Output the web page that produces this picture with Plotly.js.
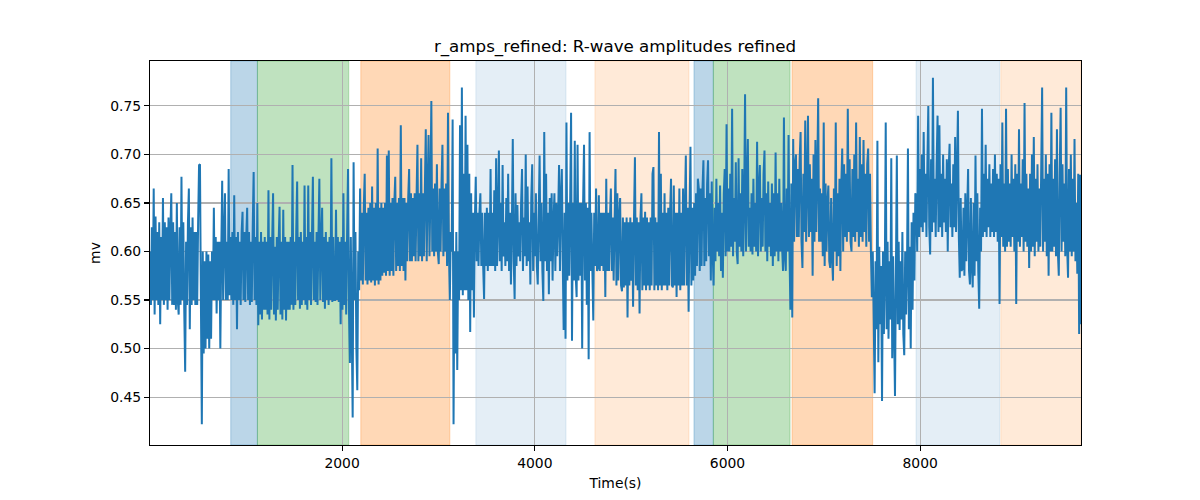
<!DOCTYPE html>
<html>
<head>
<meta charset="utf-8">
<script src="https://cdn.plot.ly/plotly-3.0.1.min.js"></script>
<style>html,body{margin:0;padding:0;background:#fff;}#chart{width:1200px;height:500px;}</style>
</head>
<body>
<div id="chart"></div>
<script>
// Sampling of the series (seconds)
const tStart = 6;
const tEnd = 9669;

// r_amps_refined values (mv)
const rAmps = [
0.60,0.545,0.625,0.55,0.665,0.535,0.636,0.55,0.62,0.545,0.63,0.525,0.615,0.55,0.655,0.545,0.63,0.55,0.625,0.54,0.635,0.55,0.62,0.66,0.545,
0.63,0.545,0.62,0.54,0.65,0.55,0.535,0.625,0.545,0.677,0.55,0.63,0.54,0.476,0.61,0.545,0.63,0.665,0.52,0.625,0.545,0.635,0.55,0.62,0.545,
0.62,0.545,0.63,0.689,0.69,0.55,0.422,0.6,0.495,0.59,0.50,0.6,0.51,0.597,0.50,0.59,0.51,0.6,0.55,0.645,0.55,0.615,0.536,0.61,0.55,
0.61,0.50,0.6,0.673,0.55,0.615,0.66,0.55,0.61,0.55,0.685,0.555,0.615,0.55,0.62,0.545,0.658,0.55,0.615,0.52,0.62,0.55,0.61,0.545,0.62,
0.641,0.55,0.62,0.548,0.615,0.645,0.55,0.62,0.545,0.61,0.548,0.625,0.682,0.55,0.615,0.545,0.65,0.524,0.61,0.535,0.62,0.53,0.61,0.54,0.615,
0.54,0.61,0.535,0.663,0.53,0.615,0.54,0.61,0.66,0.535,0.605,0.529,0.615,0.54,0.61,0.646,0.535,0.61,0.53,0.643,0.54,0.615,0.529,0.61,0.54,
0.61,0.54,0.615,0.545,0.689,0.54,0.61,0.545,0.62,0.672,0.55,0.615,0.541,0.62,0.545,0.61,0.55,0.668,0.545,0.615,0.54,0.668,0.55,0.62,0.545,
0.615,0.677,0.55,0.61,0.548,0.62,0.545,0.615,0.675,0.55,0.61,0.645,0.548,0.615,0.541,0.62,0.55,0.61,0.545,0.615,0.55,0.696,0.548,0.615,0.55,
0.55,0.643,0.55,0.615,0.548,0.61,0.525,0.615,0.54,0.66,0.545,0.61,0.535,0.62,0.685,0.54,0.485,0.615,0.52,0.429,0.692,0.55,0.62,0.5,0.457,
0.6,0.56,0.665,0.57,0.64,0.566,0.645,0.68,0.57,0.64,0.566,0.645,0.57,0.65,0.568,0.667,0.57,0.645,0.565,0.65,0.57,0.706,0.566,0.645,0.57,
0.65,0.575,0.645,0.578,0.65,0.575,0.699,0.58,0.704,0.575,0.65,0.58,0.655,0.575,0.65,0.677,0.58,0.65,0.585,0.655,0.58,0.73,0.585,0.655,0.58,
0.655,0.57,0.65,0.59,0.655,0.685,0.59,0.66,0.59,0.655,0.595,0.66,0.59,0.655,0.71,0.59,0.66,0.595,0.696,0.59,0.66,0.595,0.665,0.726,0.59,
0.665,0.72,0.595,0.66,0.755,0.6,0.665,0.595,0.67,0.6,0.69,0.6,0.587,0.665,0.6,0.67,0.71,0.595,0.665,0.6,0.67,0.585,0.743,0.6,0.55,
0.62,0.6,0.736,0.422,0.6,0.495,0.62,0.478,0.6,0.55,0.73,0.56,0.769,0.555,0.68,0.56,0.74,0.56,0.71,0.55,0.68,0.517,0.66,0.56,0.64,
0.532,0.63,0.677,0.59,0.64,0.585,0.64,0.66,0.585,0.64,0.585,0.551,0.64,0.585,0.645,0.58,0.64,0.585,0.685,0.585,0.64,0.585,0.663,0.58,0.696,
0.585,0.635,0.704,0.59,0.65,0.58,0.689,0.595,0.63,0.585,0.655,0.59,0.68,0.58,0.64,0.566,0.625,0.716,0.59,0.551,0.66,0.585,0.648,0.595,0.63,
0.59,0.65,0.685,0.58,0.635,0.595,0.70,0.585,0.667,0.59,0.63,0.566,0.655,0.69,0.58,0.64,0.595,0.66,0.585,0.566,0.635,0.699,0.59,0.65,0.58,
0.549,0.723,0.59,0.68,0.58,0.64,0.556,0.655,0.59,0.66,0.57,0.63,0.66,0.58,0.65,0.595,0.635,0.689,0.58,0.655,0.685,0.59,0.519,0.64,0.51,
0.733,0.57,0.65,0.575,0.65,0.743,0.508,0.65,0.57,0.714,0.575,0.553,0.71,0.57,0.65,0.575,0.65,0.50,0.65,0.71,0.57,0.65,0.545,0.645,0.489,
0.723,0.58,0.64,0.58,0.529,0.64,0.585,0.665,0.58,0.583,0.658,0.58,0.64,0.585,0.64,0.58,0.64,0.553,0.675,0.58,0.64,0.58,0.635,0.665,0.58,
0.635,0.57,0.63,0.685,0.565,0.66,0.57,0.635,0.655,0.565,0.559,0.635,0.563,0.63,0.565,0.635,0.532,0.63,0.565,0.635,0.57,0.63,0.543,0.635,0.697,
0.565,0.635,0.56,0.63,0.536,0.635,0.66,0.56,0.635,0.565,0.641,0.56,0.635,0.565,0.63,0.56,0.635,0.565,0.68,0.687,0.56,0.635,0.565,0.63,0.56,
0.723,0.565,0.68,0.56,0.64,0.565,0.66,0.565,0.64,0.56,0.645,0.565,0.64,0.675,0.565,0.563,0.668,0.565,0.64,0.553,0.64,0.565,0.665,0.56,0.64,
0.565,0.665,0.565,0.645,0.699,0.565,0.645,0.538,0.64,0.708,0.565,0.645,0.57,0.65,0.575,0.66,0.585,0.675,0.665,0.58,0.665,0.585,0.665,0.694,0.585,
0.655,0.59,0.67,0.694,0.595,0.66,0.57,0.672,0.6,0.565,0.645,0.59,0.675,0.6,0.65,0.595,0.668,0.58,0.64,0.573,0.66,0.685,0.595,0.731,0.6,
0.665,0.6,0.68,0.605,0.747,0.595,0.655,0.61,0.692,0.6,0.587,0.696,0.605,0.66,0.6,0.685,0.595,0.65,0.762,0.6,0.67,0.716,0.605,0.645,0.6,
0.66,0.597,0.675,0.605,0.65,0.6,0.713,0.595,0.665,0.689,0.6,0.655,0.605,0.68,0.704,0.6,0.66,0.59,0.672,0.605,0.65,0.595,0.67,0.585,0.66,
0.595,0.702,0.6,0.66,0.59,0.675,0.6,0.65,0.605,0.58,0.738,0.595,0.58,0.665,0.6,0.72,0.6,0.54,0.67,0.532,0.716,0.61,0.69,0.70,0.615,
0.685,0.615,0.695,0.723,0.61,0.583,0.68,0.62,0.735,0.61,0.67,0.74,0.615,0.69,0.62,0.675,0.575,0.70,0.61,0.715,0.62,0.68,0.758,0.61,0.665,
0.61,0.66,0.595,0.733,0.585,0.67,0.6,0.65,0.668,0.59,0.583,0.655,0.595,0.57,0.665,0.6,0.733,0.585,0.66,0.595,0.675,0.58,0.67,0.706,0.6,
0.69,0.615,0.68,0.61,0.747,0.62,0.695,0.61,0.60,0.685,0.615,0.70,0.61,0.733,0.62,0.675,0.605,0.718,0.615,0.69,0.61,0.715,0.62,0.68,0.605,
0.69,0.706,0.61,0.68,0.6,0.553,0.60,0.53,0.454,0.59,0.52,0.714,0.486,0.605,0.525,0.585,0.446,0.60,0.515,0.575,0.733,0.52,0.61,0.51,0.59,
0.53,0.696,0.49,0.595,0.52,0.451,0.58,0.699,0.525,0.61,0.519,0.59,0.53,0.62,0.515,0.493,0.60,0.535,0.585,0.706,0.52,0.605,0.50,0.63,0.54,
0.64,0.57,0.66,0.655,0.6,0.74,0.615,0.685,0.625,0.70,0.62,0.723,0.63,0.68,0.615,0.69,0.75,0.625,0.597,0.695,0.62,0.779,0.63,0.675,0.615,
0.69,0.74,0.62,0.73,0.625,0.68,0.615,0.70,0.63,0.675,0.62,0.695,0.60,0.685,0.711,0.625,0.67,0.615,0.69,0.625,0.718,0.62,0.68,0.745,0.615,
0.573,0.655,0.58,0.583,0.645,0.575,0.66,0.59,0.64,0.685,0.58,0.566,0.655,0.585,0.563,0.65,0.575,0.699,0.59,0.66,0.58,0.541,0.645,0.6,0.747,
0.615,0.68,0.62,0.71,0.615,0.675,0.625,0.69,0.615,0.67,0.62,0.685,0.615,0.70,0.62,0.68,0.61,0.675,0.546,0.69,0.615,0.733,0.605,0.67,0.60,
0.747,0.605,0.685,0.61,0.67,0.605,0.70,0.615,0.675,0.6,0.69,0.546,0.68,0.61,0.726,0.605,0.67,0.615,0.695,0.60,0.753,0.61,0.68,0.605,0.665,
0.583,0.68,0.6,0.70,0.605,0.718,0.595,0.675,0.61,0.69,0.6,0.665,0.605,0.685,0.769,0.6,0.675,0.61,0.70,0.595,0.68,0.575,0.69,0.6,0.743,
0.6,0.675,0.605,0.695,0.595,0.726,0.6,0.575,0.68,0.748,0.6,0.69,0.61,0.67,0.595,0.769,0.605,0.573,0.685,0.6,0.70,0.595,0.675,0.6,0.716,
0.59,0.65,0.577,0.68,0.515,0.679,0.525
];

// Shaded periods: start, end (s) and colour group
const spanStarts = [844, 1121, 2194, 3388, 4624, 5652, 5853, 6670, 7957, 8837];
const spanEnds   = [1121, 2069, 3118, 4324, 5600, 5853, 6649, 7507, 8825, 9669];
const spanKinds  = ['blue', 'green', 'orange', 'lightblue', 'lightorange', 'blue', 'green', 'orange', 'lightblue', 'lightorange'];

const yTicks = [0.45, 0.50, 0.55, 0.60, 0.65, 0.70, 0.75];
const xTicks = [2000, 4000, 6000, 8000];

const kindColors = {
  blue: 'rgba(31,119,180,0.30)',
  green: 'rgba(44,160,44,0.30)',
  orange: 'rgba(255,127,14,0.30)',
  lightblue: 'rgba(31,119,180,0.12)',
  lightorange: 'rgba(255,127,14,0.16)'
};

const dt = (tEnd - tStart) / (rAmps.length - 1);
const times = rAmps.map((_, i) => tStart + i * dt);

const shapes = spanStarts.map((s, i) => ({
  type: 'rect', xref: 'x', yref: 'paper',
  x0: s, x1: spanEnds[i], y0: 0, y1: 1,
  fillcolor: kindColors[spanKinds[i]],
  line: {color: kindColors[spanKinds[i]], width: 1},
  layer: 'below'
}));

const font = {family: 'DejaVu Sans, sans-serif', color: '#000', size: 13.9};

const trace = {
  x: times, y: rAmps, type: 'scatter', mode: 'lines',
  line: {color: '#1f77b4', width: 2, simplify: false},
  hoverinfo: 'skip'
};

const layout = {
  width: 1200, height: 500,
  margin: {l: 150, r: 119, t: 61, b: 55},
  paper_bgcolor: '#fff', plot_bgcolor: '#fff',
  font: font,
  showlegend: false,
  title: {
    text: 'r_amps_refined: R-wave amplitudes refined',
    font: {family: 'DejaVu Sans, sans-serif', size: 16.7, color: '#000'},
    x: 0.5125, xref: 'container', xanchor: 'center',
    y: 1 - 46 / 500, yref: 'container', yanchor: 'middle'
  },
  xaxis: {
    range: [tStart, tEnd],
    tickvals: xTicks, ticktext: xTicks.map(String),
    ticks: 'outside', ticklen: 5, tickwidth: 1.1, tickcolor: '#000',
    showline: true, linecolor: '#000', linewidth: 1.1, mirror: true,
    showgrid: true, gridcolor: '#b0b0b0', gridwidth: 1.1,
    zeroline: false,
    tickfont: font,
    title: {text: 'Time(s)', font: font, standoff: 8}
  },
  yaxis: {
    range: [0.4006, 0.7963],
    tickvals: yTicks, ticktext: yTicks.map(v => v.toFixed(2)),
    ticks: 'outside', ticklen: 5, tickwidth: 1.1, tickcolor: '#000',
    showline: true, linecolor: '#000', linewidth: 1.1, mirror: true,
    showgrid: true, gridcolor: '#b0b0b0', gridwidth: 1.1,
    zeroline: false,
    tickfont: font,
    title: {text: 'mv', font: font, standoff: 6}
  },
  shapes: shapes
};

Plotly.newPlot('chart', [trace], layout, {displayModeBar: false, staticPlot: true});
</script>
</body>
</html>
